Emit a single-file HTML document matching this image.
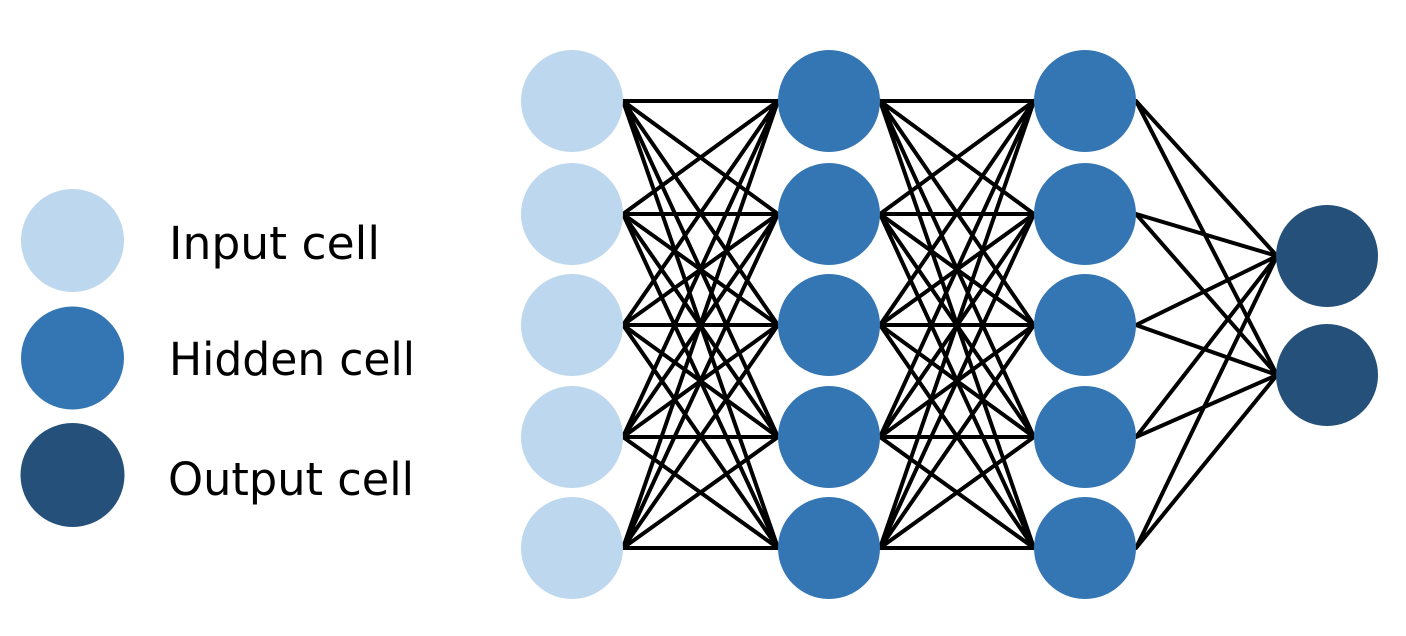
<!DOCTYPE html>
<html><head><meta charset="utf-8"><style>html,body{margin:0;padding:0;background:#fff;width:1406px;height:636px;overflow:hidden}</style></head>
<body>
<svg width="1406" height="636" viewBox="0 0 1406 636" xmlns="http://www.w3.org/2000/svg">
<g stroke="#000" stroke-width="4" fill="none" stroke-linecap="round">
<path d="M623 101L778 101M623 101L778 214M623 101L778 325M623 101L778 437M623 101L778 548
M623 214L778 101M623 214L778 214M623 214L778 325M623 214L778 437M623 214L778 548
M623 325L778 101M623 325L778 214M623 325L778 325M623 325L778 437M623 325L778 548
M623 437L778 101M623 437L778 214M623 437L778 325M623 437L778 437M623 437L778 548
M623 548L778 101M623 548L778 214M623 548L778 325M623 548L778 437M623 548L778 548"/>
<path d="M880 101L1034 101M880 101L1034 214M880 101L1034 325M880 101L1034 437M880 101L1034 548
M880 214L1034 101M880 214L1034 214M880 214L1034 325M880 214L1034 437M880 214L1034 548
M880 325L1034 101M880 325L1034 214M880 325L1034 325M880 325L1034 437M880 325L1034 548
M880 437L1034 101M880 437L1034 214M880 437L1034 325M880 437L1034 437M880 437L1034 548
M880 548L1034 101M880 548L1034 214M880 548L1034 325M880 548L1034 437M880 548L1034 548"/>
<path d="M1136 101L1277 256M1136 101L1277 375M1136 214L1277 256M1136 214L1277 375M1136 325L1277 256M1136 325L1277 375M1136 437L1277 256M1136 437L1277 375M1136 548L1277 256M1136 548L1277 375"/>
</g>
<g fill="#bdd7ee">
<circle cx="572" cy="101" r="51"/><circle cx="572" cy="214" r="51"/><circle cx="572" cy="325" r="51"/><circle cx="572" cy="437" r="51"/><circle cx="572" cy="548" r="51"/>
<circle cx="72.5" cy="240.5" r="51.5"/>
</g>
<g fill="#3476b3">
<circle cx="829" cy="101" r="51"/><circle cx="829" cy="214" r="51"/><circle cx="829" cy="325" r="51"/><circle cx="829" cy="437" r="51"/><circle cx="829" cy="548" r="51"/>
<circle cx="1085" cy="101" r="51"/><circle cx="1085" cy="214" r="51"/><circle cx="1085" cy="325" r="51"/><circle cx="1085" cy="437" r="51"/><circle cx="1085" cy="548" r="51"/>
<circle cx="72.5" cy="358" r="51.5"/>
</g>
<g fill="#24507a">
<circle cx="1327" cy="256" r="51"/><circle cx="1327" cy="375" r="51"/>
<circle cx="72.5" cy="475" r="52"/>
</g>
<g font-family="'DejaVu Sans','Liberation Sans',sans-serif" font-size="45" fill="#000">
<text x="169" y="259" textLength="211" lengthAdjust="spacingAndGlyphs">Input cell</text>
<text x="169" y="375" textLength="246" lengthAdjust="spacingAndGlyphs">Hidden cell</text>
<text x="168" y="495" textLength="246" lengthAdjust="spacingAndGlyphs">Output cell</text>
</g>
</svg>
</body></html>
